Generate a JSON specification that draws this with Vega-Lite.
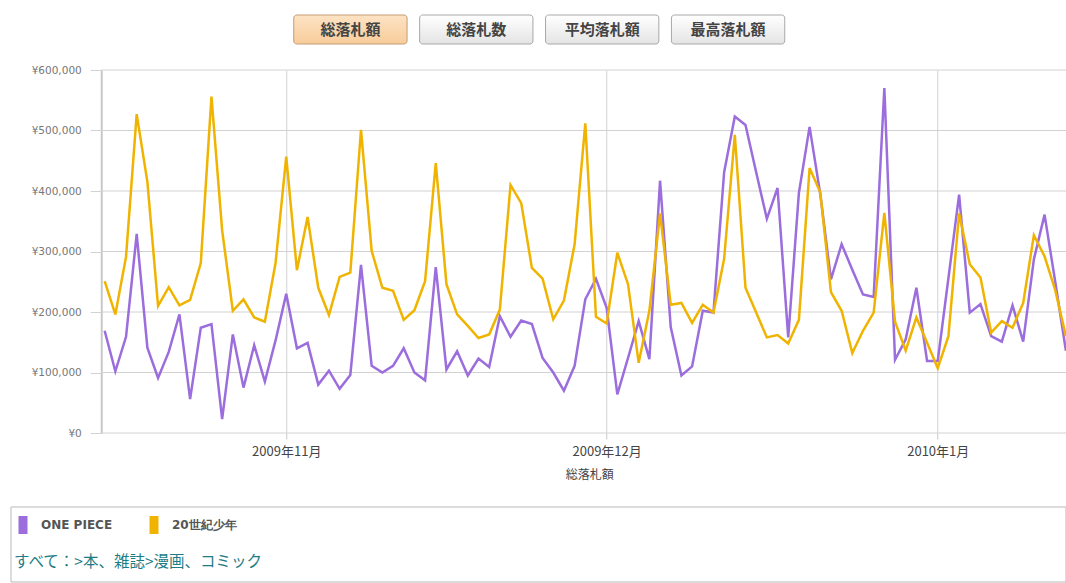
{
  "$schema": "https://vega.github.io/schema/vega-lite/v6.json",
  "background": "white",
  "padding": {"left": 10, "top": 14, "right": 0, "bottom": 0},
  "config": {"view": {"stroke": null}, "font": "Noto Sans CJK JP"},
  "spacing": 26,
  "vconcat": [
    {
      "spacing": 20,
      "center": true,
      "vconcat": [
        {
          "width": 491,
          "height": 29,
          "data": {"values": [
            {"label": "総落札額", "selected": true},
            {"label": "総落札数", "selected": false},
            {"label": "平均落札額", "selected": false},
            {"label": "最高落札額", "selected": false}
          ]},
          "encoding": {
            "x": {"field": "label", "type": "nominal", "sort": null, "axis": null,
                  "scale": {"paddingInner": 0.1, "paddingOuter": 0}}
          },
          "layer": [
            {
              "mark": {"type": "rect", "cornerRadius": 3, "strokeWidth": 1},
              "encoding": {
                "fill": {
                  "condition": {"test": "datum.selected", "value": {"gradient": "linear", "x1": 0, "y1": 0, "x2": 0, "y2": 1, "stops": [{"offset": 0, "color": "#fde3c4"}, {"offset": 1, "color": "#f8cc9a"}]}},
                  "value": {"gradient": "linear", "x1": 0, "y1": 0, "x2": 0, "y2": 1, "stops": [{"offset": 0, "color": "#ffffff"}, {"offset": 1, "color": "#e4e4e4"}]}
                },
                "stroke": {"condition": {"test": "datum.selected", "value": "#c49c74"}, "value": "#a8a8a8"}
              }
            },
            {
              "mark": {"type": "text", "fontSize": 15, "fontWeight": "bold", "color": "#444444", "font": "Noto Sans CJK JP", "baseline": "middle"},
              "encoding": {"text": {"field": "label"}}
            }
          ]
        },
        {
          "width": 1056,
          "height": 363,
          "layer": [
            {
              "data": {"values": [{"g": 0}, {"g": 100000}, {"g": 200000}, {"g": 300000}, {"g": 400000}, {"g": 500000}, {"g": 600000}]},
              "mark": {"type": "rule", "color": "#d2d2d2", "strokeWidth": 1},
              "encoding": {
                "y": {"field": "g", "type": "quantitative", "title": null, "scale": {"domain": [0, 600000]}},
                "x": {"datum": {"year": 2009, "month": 10, "date": 14, "hours": 16, "minutes": 20, "utc": true}, "type": "temporal"},
                "x2": {"datum": {"year": 2010, "month": 1, "date": 13, "hours": 3, "utc": true}}
              }
            },
            {
              "data": {"values": [
                {"d": "2009-10-15", "ONE PIECE": 169000, "20世紀少年": 251000},
                {"d": "2009-10-16", "ONE PIECE": 102000, "20世紀少年": 196000},
                {"d": "2009-10-17", "ONE PIECE": 159000, "20世紀少年": 291000},
                {"d": "2009-10-18", "ONE PIECE": 329000, "20世紀少年": 527000},
                {"d": "2009-10-19", "ONE PIECE": 141000, "20世紀少年": 415000},
                {"d": "2009-10-20", "ONE PIECE": 91000, "20世紀少年": 210000},
                {"d": "2009-10-21", "ONE PIECE": 134000, "20世紀少年": 241000},
                {"d": "2009-10-22", "ONE PIECE": 196000, "20世紀少年": 211000},
                {"d": "2009-10-23", "ONE PIECE": 56000, "20世紀少年": 220000},
                {"d": "2009-10-24", "ONE PIECE": 174000, "20世紀少年": 281000},
                {"d": "2009-10-25", "ONE PIECE": 180000, "20世紀少年": 556000},
                {"d": "2009-10-26", "ONE PIECE": 23000, "20世紀少年": 335000},
                {"d": "2009-10-27", "ONE PIECE": 163000, "20世紀少年": 202000},
                {"d": "2009-10-28", "ONE PIECE": 75000, "20世紀少年": 221000},
                {"d": "2009-10-29", "ONE PIECE": 145000, "20世紀少年": 191000},
                {"d": "2009-10-30", "ONE PIECE": 85000, "20世紀少年": 184000},
                {"d": "2009-10-31", "ONE PIECE": 153000, "20世紀少年": 281000},
                {"d": "2009-11-01", "ONE PIECE": 230000, "20世紀少年": 457000},
                {"d": "2009-11-02", "ONE PIECE": 140000, "20世紀少年": 269000},
                {"d": "2009-11-03", "ONE PIECE": 149000, "20世紀少年": 357000},
                {"d": "2009-11-04", "ONE PIECE": 80000, "20世紀少年": 240000},
                {"d": "2009-11-05", "ONE PIECE": 103000, "20世紀少年": 195000},
                {"d": "2009-11-06", "ONE PIECE": 73000, "20世紀少年": 258000},
                {"d": "2009-11-07", "ONE PIECE": 96000, "20世紀少年": 265000},
                {"d": "2009-11-08", "ONE PIECE": 278000, "20世紀少年": 501000},
                {"d": "2009-11-09", "ONE PIECE": 111000, "20世紀少年": 301000},
                {"d": "2009-11-10", "ONE PIECE": 100000, "20世紀少年": 240000},
                {"d": "2009-11-11", "ONE PIECE": 111000, "20世紀少年": 235000},
                {"d": "2009-11-12", "ONE PIECE": 140000, "20世紀少年": 187000},
                {"d": "2009-11-13", "ONE PIECE": 100000, "20世紀少年": 203000},
                {"d": "2009-11-14", "ONE PIECE": 87000, "20世紀少年": 251000},
                {"d": "2009-11-15", "ONE PIECE": 274000, "20世紀少年": 446000},
                {"d": "2009-11-16", "ONE PIECE": 105000, "20世紀少年": 246000},
                {"d": "2009-11-17", "ONE PIECE": 135000, "20世紀少年": 196000},
                {"d": "2009-11-18", "ONE PIECE": 95000, "20世紀少年": 177000},
                {"d": "2009-11-19", "ONE PIECE": 123000, "20世紀少年": 157000},
                {"d": "2009-11-20", "ONE PIECE": 109000, "20世紀少年": 163000},
                {"d": "2009-11-21", "ONE PIECE": 193000, "20世紀少年": 204000},
                {"d": "2009-11-22", "ONE PIECE": 159000, "20世紀少年": 410000},
                {"d": "2009-11-23", "ONE PIECE": 186000, "20世紀少年": 380000},
                {"d": "2009-11-24", "ONE PIECE": 180000, "20世紀少年": 273000},
                {"d": "2009-11-25", "ONE PIECE": 124000, "20世紀少年": 255000},
                {"d": "2009-11-26", "ONE PIECE": 100000, "20世紀少年": 188000},
                {"d": "2009-11-27", "ONE PIECE": 70000, "20世紀少年": 219000},
                {"d": "2009-11-28", "ONE PIECE": 111000, "20世紀少年": 312000},
                {"d": "2009-11-29", "ONE PIECE": 221000, "20世紀少年": 512000},
                {"d": "2009-11-30", "ONE PIECE": 255000, "20世紀少年": 192000},
                {"d": "2009-12-01", "ONE PIECE": 207000, "20世紀少年": 181000},
                {"d": "2009-12-02", "ONE PIECE": 64000, "20世紀少年": 298000},
                {"d": "2009-12-03", "ONE PIECE": 124000, "20世紀少年": 246000},
                {"d": "2009-12-04", "ONE PIECE": 185000, "20世紀少年": 116000},
                {"d": "2009-12-05", "ONE PIECE": 122000, "20世紀少年": 202000},
                {"d": "2009-12-06", "ONE PIECE": 417000, "20世紀少年": 363000},
                {"d": "2009-12-07", "ONE PIECE": 175000, "20世紀少年": 212000},
                {"d": "2009-12-08", "ONE PIECE": 95000, "20世紀少年": 215000},
                {"d": "2009-12-09", "ONE PIECE": 110000, "20世紀少年": 182000},
                {"d": "2009-12-10", "ONE PIECE": 202000, "20世紀少年": 212000},
                {"d": "2009-12-11", "ONE PIECE": 199000, "20世紀少年": 199000},
                {"d": "2009-12-12", "ONE PIECE": 431000, "20世紀少年": 288000},
                {"d": "2009-12-13", "ONE PIECE": 523000, "20世紀少年": 493000},
                {"d": "2009-12-14", "ONE PIECE": 509000, "20世紀少年": 240000},
                {"d": "2009-12-15", "ONE PIECE": 431000, "20世紀少年": 199000},
                {"d": "2009-12-16", "ONE PIECE": 354000, "20世紀少年": 158000},
                {"d": "2009-12-17", "ONE PIECE": 405000, "20世紀少年": 162000},
                {"d": "2009-12-18", "ONE PIECE": 158000, "20世紀少年": 148000},
                {"d": "2009-12-19", "ONE PIECE": 397000, "20世紀少年": 187000},
                {"d": "2009-12-20", "ONE PIECE": 506000, "20世紀少年": 438000},
                {"d": "2009-12-21", "ONE PIECE": 395000, "20世紀少年": 398000},
                {"d": "2009-12-22", "ONE PIECE": 254000, "20世紀少年": 233000},
                {"d": "2009-12-23", "ONE PIECE": 312000, "20世紀少年": 202000},
                {"d": "2009-12-24", "ONE PIECE": 270000, "20世紀少年": 132000},
                {"d": "2009-12-25", "ONE PIECE": 229000, "20世紀少年": 169000},
                {"d": "2009-12-26", "ONE PIECE": 225000, "20世紀少年": 199000},
                {"d": "2009-12-27", "ONE PIECE": 570000, "20世紀少年": 364000},
                {"d": "2009-12-28", "ONE PIECE": 121000, "20世紀少年": 184000},
                {"d": "2009-12-29", "ONE PIECE": 155000, "20世紀少年": 136000},
                {"d": "2009-12-30", "ONE PIECE": 240000, "20世紀少年": 191000},
                {"d": "2009-12-31", "ONE PIECE": 119000, "20世紀少年": 149000},
                {"d": "2010-01-01", "ONE PIECE": 119000, "20世紀少年": 107000},
                {"d": "2010-01-02", "ONE PIECE": 256000, "20世紀少年": 160000},
                {"d": "2010-01-03", "ONE PIECE": 394000, "20世紀少年": 363000},
                {"d": "2010-01-04", "ONE PIECE": 199000, "20世紀少年": 279000},
                {"d": "2010-01-05", "ONE PIECE": 213000, "20世紀少年": 257000},
                {"d": "2010-01-06", "ONE PIECE": 160000, "20世紀少年": 166000},
                {"d": "2010-01-07", "ONE PIECE": 151000, "20世紀少年": 185000},
                {"d": "2010-01-08", "ONE PIECE": 211000, "20世紀少年": 174000},
                {"d": "2010-01-09", "ONE PIECE": 151000, "20世紀少年": 215000},
                {"d": "2010-01-10", "ONE PIECE": 287000, "20世紀少年": 327000},
                {"d": "2010-01-11", "ONE PIECE": 361000, "20世紀少年": 292000},
                {"d": "2010-01-12", "ONE PIECE": 250000, "20世紀少年": 236000},
                {"d": "2010-01-13", "ONE PIECE": 136000, "20世紀少年": 160000}
              ]},
              "transform": [{"fold": ["ONE PIECE", "20世紀少年"], "as": ["series", "value"]}],
              "mark": {"type": "line", "strokeWidth": 2.5, "clip": true},
              "encoding": {
                "x": {
                  "field": "d", "type": "temporal",
                  "scale": {"type": "utc", "domain": [
                    {"year": 2009, "month": 10, "date": 6, "hours": 6, "minutes": 6, "utc": true},
                    {"year": 2010, "month": 1, "date": 13, "hours": 3, "utc": true}
                  ]},
                  "axis": {
                    "values": [
                      {"year": 2009, "month": 11, "date": 1, "utc": true},
                      {"year": 2009, "month": 12, "date": 1, "utc": true},
                      {"year": 2010, "month": 1, "date": 1, "utc": true}
                    ],
                    "labelExpr": "utcyear(datum.value) + '年' + (utcmonth(datum.value) + 1) + '月'",
                    "title": "総落札額", "titleX": 578,
                    "grid": true, "gridColor": "#d2d2d2",
                    "domain": false, "tickColor": "#c8c8c8", "tickSize": 6,
                    "labelFont": "Noto Sans CJK JP", "labelFontSize": 13, "labelColor": "#444444", "labelPadding": 6, "labelFlush": false,
                    "titleFont": "Noto Sans CJK JP", "titleFontSize": 12, "titleFontWeight": "normal", "titleColor": "#444444", "titlePadding": 11
                  }
                },
                "y": {
                  "field": "value", "type": "quantitative", "title": null,
                  "scale": {"domain": [0, 600000]},
                  "axis": {
                    "values": [0, 100000, 200000, 300000, 400000, 500000, 600000],
                    "labelExpr": "'¥' + format(datum.value, ',')",
                    "title": null,
                    "grid": false, "offset": -90,
                    "domainColor": "#c8c8c8", "domainWidth": 2,
                    "tickColor": "#d2d2d2", "tickSize": 11,
                    "labelFont": "DejaVu Sans", "labelFontSize": 10.5, "labelColor": "#777777", "labelPadding": 9
                  }
                },
                "color": {
                  "field": "series", "type": "nominal",
                  "scale": {"domain": ["ONE PIECE", "20世紀少年"], "range": ["#9b6ddd", "#f0b400"]},
                  "legend": {
                    "orient": "none", "legendX": 3, "legendY": 501, "direction": "horizontal",
                    "title": "すべて：>本、雑誌>漫画、コミック",
                    "titleOrient": "bottom", "titleAnchor": "start", "titlePadding": 21, "titleLimit": 1000,
                    "titleFont": "Noto Sans CJK JP", "titleFontSize": 15.5, "titleFontWeight": "normal", "titleColor": "#1d7d86",
                    "symbolType": "M-0.5,-1H0.5V1H-0.5Z", "symbolSize": 324, "symbolStrokeWidth": 0, "symbolOpacity": 1,
                    "labelOffset": 9, "columnPadding": 32, "padding": 0,
                    "labelFont": "DejaVu Sans", "labelFontWeight": "bold", "labelFontSize": 12, "labelColor": "#555555",
                    "encode": {"symbols": {"update": {"fill": {"scale": "color", "field": "value"}, "fillOpacity": {"value": 1}, "strokeWidth": {"value": 0}}}}
                  }
                }
              }
            }
          ]
        }
      ]
    },
    {
      "width": 1055,
      "height": 75,
      "data": {"values": [{"panel": "legend"}]},
      "mark": {"type": "rect", "fill": "#ffffff", "stroke": "#b9b9b9", "strokeWidth": 1}
    }
  ]
}
